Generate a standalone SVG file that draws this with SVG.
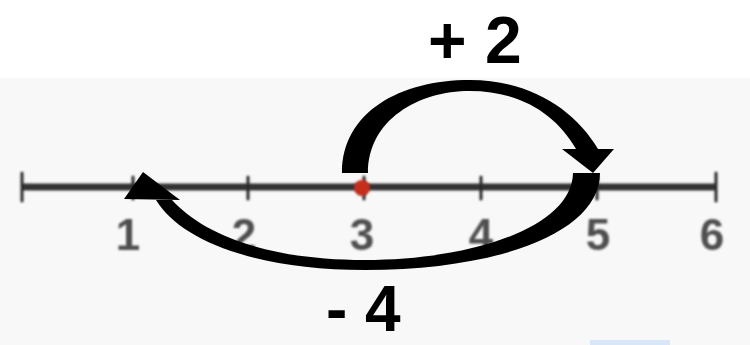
<svg xmlns="http://www.w3.org/2000/svg" width="750" height="345" viewBox="0 0 750 345">
  <defs>
    <filter id="soft" x="-10%" y="-10%" width="120%" height="120%">
      <feGaussianBlur stdDeviation="1.1"/>
    </filter>
    <style>
      .tick { stroke: #2b2b2b; stroke-width: 3; stroke-linecap: round; }
      .num { font-family: "Liberation Sans", Arial, sans-serif; font-weight: bold; font-size: 44px; fill: #505050; text-anchor: middle; }
      .op { font-family: "Liberation Sans", Arial, sans-serif; font-weight: bold; font-size: 66px; fill: #000; }
      .arc { fill: #000; stroke: none; }
    </style>
  </defs>
  <rect x="0" y="0" width="750" height="345" fill="#ffffff"/>
  <rect x="0" y="78" width="750" height="267" fill="#f8f8f8"/>
  <rect x="590" y="340" width="80" height="5" fill="#d8e6f7"/>

  <g id="number-line" filter="url(#soft)">
    <line x1="22" y1="187" x2="716" y2="187" stroke="#333" stroke-width="7"/>
    <line class="tick" x1="22" y1="173" x2="22" y2="201"/>
    <line class="tick" x1="133" y1="177" x2="133" y2="199"/>
    <line class="tick" x1="248" y1="177" x2="248" y2="199"/>
    <line class="tick" x1="364" y1="177" x2="364" y2="199"/>
    <line class="tick" x1="481" y1="177" x2="481" y2="199"/>
    <line class="tick" x1="597" y1="177" x2="597" y2="199"/>
    <line class="tick" x1="716" y1="173" x2="716" y2="201"/>
  </g>

  <g id="labels" filter="url(#soft)">
    <text class="num" x="128" y="250">1</text>
    <text class="num" x="244" y="250">2</text>
    <text class="num" x="362" y="250">3</text>
    <text class="num" x="481" y="250">4</text>
    <text class="num" x="598" y="250">5</text>
    <text class="num" x="712" y="250">6</text>
  </g>

  <g id="start-dot" filter="url(#soft)">
    <circle cx="362" cy="188" r="8" fill="#c62d1f"/>
  </g>

  <g id="connectors">
    <g id="arc-plus2">
      <path class="arc" d="M342,173 C342,112 400,80 470,80 C530,80 575,110 598,149 L576,149 C556,114 520,91 470,91 C418,91 368,120 368,173 Z"/>
      <polygon class="arc" points="562,149 614,149 593,173"/>
    </g>
    <g id="arc-minus4">
      <path class="arc" d="M600,173 C600,232 500,270 365,270 C255,270 180,240 156,200 L172,200 C205,236 270,260 365,260 C470,260 572,228 573,173 Z"/>
      <polygon class="arc" points="143,172 124,199 180,200"/>
    </g>
  </g>

  <g id="op-labels">
    <text class="op" x="428" y="63">+ 2</text>
    <text class="op" x="326" y="331" style="font-size:64px">- 4</text>
  </g>
</svg>
